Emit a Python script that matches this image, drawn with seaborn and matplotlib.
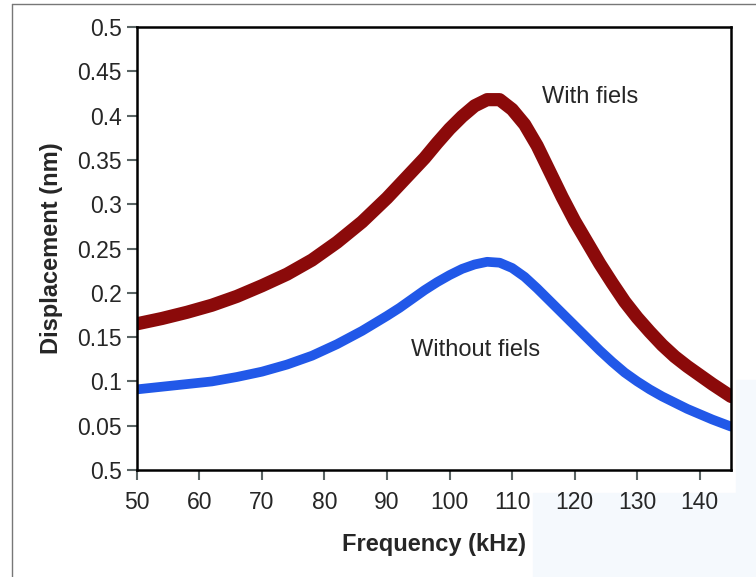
import numpy as np
import pandas as pd
import matplotlib
matplotlib.use("Agg")
import matplotlib.pyplot as plt
import seaborn as sns
from matplotlib.patches import Rectangle
from matplotlib.lines import Line2D

# values
freq_khz = [50, 54, 58, 62, 66, 70, 74, 78, 82, 86, 90, 92, 94, 96, 98, 100,
            102, 104, 106, 108, 110, 112, 114, 116, 118, 120, 122, 124, 126,
            128, 130, 132, 134, 136, 138, 140, 142, 145]
with_field = [0.165, 0.171, 0.178, 0.186, 0.196, 0.208, 0.221, 0.237, 0.257,
              0.280, 0.307, 0.322, 0.337, 0.352, 0.369, 0.385, 0.399, 0.411,
              0.418, 0.418, 0.407, 0.390, 0.366, 0.337, 0.308, 0.281, 0.257,
              0.233, 0.211, 0.190, 0.172, 0.156, 0.141, 0.128, 0.117, 0.107,
              0.097, 0.083]
without_field = [0.091, 0.094, 0.097, 0.100, 0.105, 0.111, 0.119, 0.129, 0.142,
                 0.157, 0.174, 0.183, 0.193, 0.203, 0.212, 0.220, 0.227, 0.232,
                 0.235, 0.234, 0.228, 0.218, 0.205, 0.191, 0.177, 0.163, 0.149,
                 0.135, 0.122, 0.110, 0.100, 0.091, 0.083, 0.076, 0.069, 0.063,
                 0.057, 0.049]
x_ticks = [50, 60, 70, 80, 90, 100, 110, 120, 130, 140]
y_ticks = [0.0, 0.05, 0.1, 0.15, 0.2, 0.25, 0.3, 0.35, 0.4, 0.45, 0.5]
y_tick_labels = ['0.5', '0.05', '0.1', '0.15', '0.2', '0.25', '0.3',
                 '0.35', '0.4', '0.45', '0.5']

sns.set_style("ticks")
plt.rcParams['font.family'] = ['Liberation Sans', 'DejaVu Sans']

df = pd.DataFrame({
    'freq': freq_khz * 2,
    'disp': with_field + without_field,
    'series': ['With fiels'] * len(freq_khz) + ['Without fiels'] * len(freq_khz),
})

fig = plt.figure(figsize=(7.56, 5.77), dpi=100)
ax = fig.add_axes([0.181, 0.1854, 0.786, 0.7678])

# faint background bits of the original scan
fig.patches.append(Rectangle((533 / 756, 0), 223 / 756, 84 / 577,
                             transform=fig.transFigure, color='#f5f9fd',
                             zorder=-10))
fig.patches.append(Rectangle((736 / 756, 84 / 577), 20 / 756, 113 / 577,
                             transform=fig.transFigure, color='#f5f9fd',
                             zorder=-10))
fig.add_artist(Line2D([12 / 756, 12 / 756], [0, 1 - 4 / 577],
                      transform=fig.transFigure, color='#777777', lw=1))
fig.add_artist(Line2D([12 / 756, 1], [1 - 4 / 577, 1 - 4 / 577],
                      transform=fig.transFigure, color='#777777', lw=1))

sns.lineplot(data=df[df.series == 'With fiels'], x='freq', y='disp',
             color='#8B0A0A', linewidth=9.5, ax=ax, legend=False)
sns.lineplot(data=df[df.series == 'Without fiels'], x='freq', y='disp',
             color='#2158E8', linewidth=7, ax=ax, legend=False)

ax.set_xlim(50, 145)
ax.set_ylim(0, 0.5)
ax.set_xticks(x_ticks)
ax.set_yticks(y_ticks)
ax.set_yticklabels(y_tick_labels)
ax.tick_params(axis='both', labelsize=16.5, length=7, width=1.5,
               color='#5a6464')
ax.tick_params(axis='x', pad=8)
ax.tick_params(axis='y', pad=4)

for side in ['left', 'bottom', 'top', 'right']:
    ax.spines[side].set_linewidth(1.8)
    ax.spines[side].set_color('black')

ax.set_xlabel('Frequency (kHz)', fontsize=17, fontweight='bold', labelpad=14)
ax.set_ylabel('Displacement (nm)', fontsize=17, fontweight='bold', labelpad=10)

ax.text(122.4, 0.421, 'With fiels', fontsize=17, ha='center', va='center')
ax.text(104.1, 0.135, 'Without fiels', fontsize=17, ha='center', va='center')

fig.savefig('out.png', dpi=100)
